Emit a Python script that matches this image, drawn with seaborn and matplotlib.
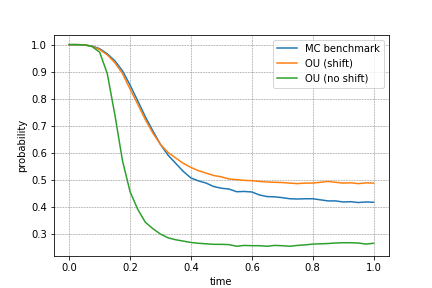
import numpy as np
import pandas as pd
import seaborn as sns
import matplotlib
matplotlib.use("Agg")
import matplotlib.pyplot as plt

time = [0.000, 0.025, 0.050, 0.075, 0.100, 0.125, 0.150, 0.175, 0.200, 0.225,
        0.250, 0.275, 0.300, 0.325, 0.350, 0.375, 0.400, 0.425, 0.450, 0.475,
        0.500, 0.525, 0.550, 0.575, 0.600, 0.625, 0.650, 0.675, 0.700, 0.725,
        0.750, 0.775, 0.800, 0.825, 0.850, 0.875, 0.900, 0.925, 0.950, 0.975,
        1.000]

mc_benchmark = [1.000, 1.000, 0.999, 0.995, 0.985, 0.966, 0.940, 0.903, 0.850, 0.792,
                0.733, 0.680, 0.630, 0.590, 0.560, 0.530, 0.506, 0.495, 0.487, 0.474,
                0.468, 0.465, 0.455, 0.456, 0.454, 0.443, 0.437, 0.436, 0.433, 0.429,
                0.428, 0.429, 0.429, 0.425, 0.421, 0.421, 0.417, 0.418, 0.415, 0.417,
                0.416]

ou_shift = [1.000, 1.000, 0.999, 0.994, 0.982, 0.962, 0.933, 0.893, 0.835, 0.780,
            0.722, 0.672, 0.630, 0.600, 0.580, 0.560, 0.545, 0.533, 0.524, 0.515,
            0.510, 0.502, 0.500, 0.497, 0.496, 0.493, 0.491, 0.490, 0.489, 0.487,
            0.485, 0.487, 0.487, 0.490, 0.493, 0.490, 0.487, 0.488, 0.485, 0.488,
            0.487]

ou_no_shift = [1.000, 1.000, 0.999, 0.993, 0.972, 0.893, 0.740, 0.570, 0.455, 0.390,
               0.342, 0.318, 0.298, 0.284, 0.277, 0.272, 0.267, 0.264, 0.262, 0.260,
               0.260, 0.259, 0.253, 0.256, 0.255, 0.255, 0.253, 0.256, 0.255, 0.253,
               0.256, 0.258, 0.261, 0.262, 0.263, 0.265, 0.266, 0.266, 0.265, 0.261,
               0.264]

labels = ["MC benchmark", "OU (shift)", "OU (no shift)"]

df = pd.DataFrame({
    "time": time * 3,
    "probability": mc_benchmark + ou_shift + ou_no_shift,
    "series": [labels[0]] * len(time) + [labels[1]] * len(time) + [labels[2]] * len(time),
})

fig, ax = plt.subplots(figsize=(6, 4), dpi=72)

sns.lineplot(data=df, x="time", y="probability", hue="series", hue_order=labels,
             palette=["tab:blue", "tab:orange", "tab:green"], ax=ax)

ax.grid(True, linestyle="--", color="gray", linewidth=0.5)
ax.legend(loc="upper right")
ax.set_xlabel("time")
ax.set_ylabel("probability")

fig.savefig("out.png", dpi=72)
